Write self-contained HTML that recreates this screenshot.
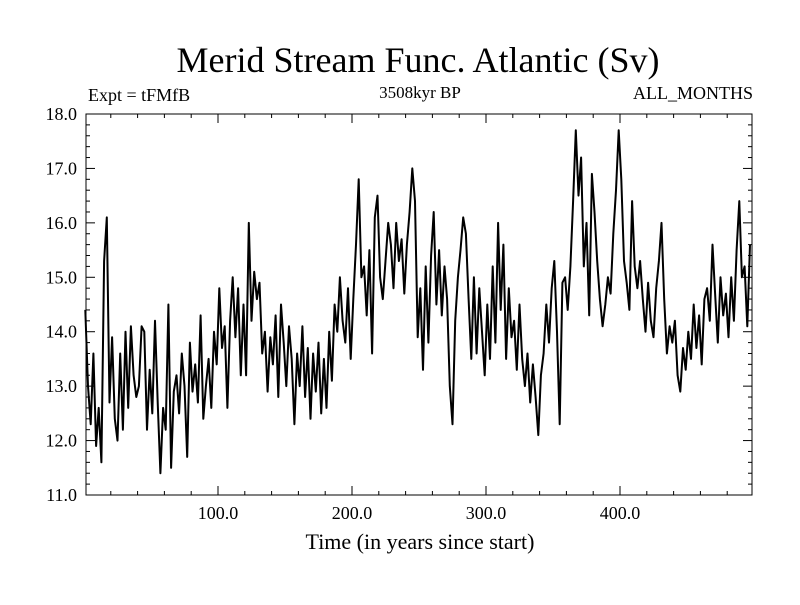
<!DOCTYPE html>
<html><head><meta charset="utf-8"><style>
body{margin:0;background:#fff}
svg text{font-family:"Liberation Serif",serif;fill:#000}
</style></head><body>
<svg id="chart" width="800" height="600" xmlns="http://www.w3.org/2000/svg">
<rect width="800" height="600" fill="#fff"/>
<text x="418" y="72" font-size="36" text-anchor="middle">Merid Stream Func. Atlantic (Sv)</text>
<text x="88" y="101" font-size="18">Expt = tFMfB</text>
<text x="420" y="98" font-size="17" text-anchor="middle">3508kyr BP</text>
<text x="753" y="99" font-size="18" text-anchor="end">ALL_MONTHS</text>
<text x="420" y="549" font-size="22" text-anchor="middle">Time (in years since start)</text>
<g id="axes"></g>
<path id="series" fill="none" stroke="#000" stroke-width="2" stroke-linejoin="round"/>
<rect x="86" y="114" width="666" height="381" fill="none" stroke="#000" stroke-width="1"/>
</svg>
<script>
const xTicks=[100,200,300,400];
const xTickLabels=["100.0","200.0","300.0","400.0"];
const yTicks=[11,12,13,14,15,16,17,18];
const yTickLabels=["11.0","12.0","13.0","14.0","15.0","16.0","17.0","18.0"];
const startYear=1, yearStep=2;
const values=[
14.4,13.0,12.3,13.6,11.9,12.6,11.6,15.3,16.1,12.7,13.9,12.4,12.0,13.6,12.2,14.0,12.6,14.1,13.2,12.8,
13.0,14.1,14.0,12.2,13.3,12.5,14.2,12.7,11.4,12.6,12.2,14.5,11.5,12.9,13.2,12.5,13.6,13.0,11.7,13.8,
12.9,13.4,12.7,14.3,12.4,13.0,13.5,12.6,14.0,13.4,14.8,13.7,14.1,12.6,14.2,15.0,13.9,14.8,13.2,14.5,
13.2,16.0,14.2,15.1,14.6,14.9,13.6,14.0,12.9,13.9,13.4,14.3,12.8,14.5,13.8,13.0,14.1,13.5,12.3,13.6,
13.0,14.1,12.8,13.7,12.4,13.6,12.9,13.8,12.5,13.5,12.6,14.0,13.1,14.5,14.0,15.0,14.2,13.8,14.8,13.5,
14.6,15.6,16.8,15.0,15.2,14.3,15.5,13.6,16.1,16.5,15.0,14.6,15.3,16.0,15.6,14.8,16.0,15.3,15.7,14.7,
15.6,16.2,17.0,16.4,13.9,14.8,13.3,15.2,13.8,15.4,16.2,14.5,15.5,14.3,15.2,14.6,13.0,12.3,14.2,15.0,
15.5,16.1,15.8,14.6,13.5,15.0,13.6,14.8,14.0,13.2,14.5,13.5,15.2,13.8,16.0,14.4,15.6,13.5,14.8,13.9,
14.2,13.3,14.5,13.5,13.0,13.6,12.7,13.4,12.8,12.1,13.2,13.6,14.5,13.8,14.8,15.3,14.0,12.3,14.9,15.0,
14.4,15.2,16.4,17.7,16.5,17.2,15.2,16.0,14.3,16.9,16.2,15.3,14.6,14.1,14.5,15.0,14.7,15.8,16.6,17.7,
16.8,15.3,14.9,14.4,16.4,15.2,14.8,15.3,14.6,14.0,14.9,14.2,13.9,14.8,15.3,16.0,14.6,13.6,14.1,13.8,
14.2,13.2,12.9,13.7,13.3,14.0,13.5,14.5,13.7,14.3,13.4,14.6,14.8,14.2,15.6,14.7,13.8,15.0,14.3,14.7,
13.9,15.0,14.2,15.5,16.4,15.0,15.2,14.1,15.6];
const L=86,R=752,T=114,B=495,XMIN=1.5,XMAX=498.5,YMIN=11,YMAX=18;
function xs(v){return L+(v-XMIN)/(XMAX-XMIN)*(R-L);}
function ys(v){return B-(v-YMIN)/(YMAX-YMIN)*(B-T);}
const NS="http://www.w3.org/2000/svg";
const ax=document.getElementById('axes');
function line(x1,y1,x2,y2,name){const l=document.createElementNS(NS,'line');
l.setAttribute('x1',x1);l.setAttribute('y1',y1);l.setAttribute('x2',x2);l.setAttribute('y2',y2);
l.setAttribute('stroke','#000');l.setAttribute('stroke-width','1');


ax.appendChild(l);}
function text(x,y,s,anchor,name){const t=document.createElementNS(NS,'text');
t.setAttribute('x',x);t.setAttribute('y',y);t.setAttribute('font-size','18');t.setAttribute('text-anchor',anchor);t.textContent=s;


ax.appendChild(t);}
for(let v=20;v<XMAX;v+=20){const x=xs(v);const major=v%100===0;const len=major?9:4;
line(x,B,x,B-len,'x-tick');line(x,T,x,T+len,'x-tick-top');}
xTicks.forEach((v,i)=>text(xs(v),B+24,xTickLabels[i],'middle','x-tick-label'));
for(let v=YMIN;v<=YMAX+1e-9;v+=0.2){const y=ys(v);const major=Math.abs(v-Math.round(v))<1e-6;const len=major?9:4;
line(L,y,L+len,y,'y-tick');line(R,y,R-len,y,'y-tick-right');}
yTicks.forEach((v,i)=>text(L-9,ys(v)+6,yTickLabels[i],'end','y-tick-label'));
let d='';values.forEach((v,i)=>{const yr=startYear+i*yearStep;d+=(i?'L':'M')+xs(yr).toFixed(1)+','+ys(v).toFixed(1);});
document.getElementById('series').setAttribute('d',d);
</script>
</body></html>
